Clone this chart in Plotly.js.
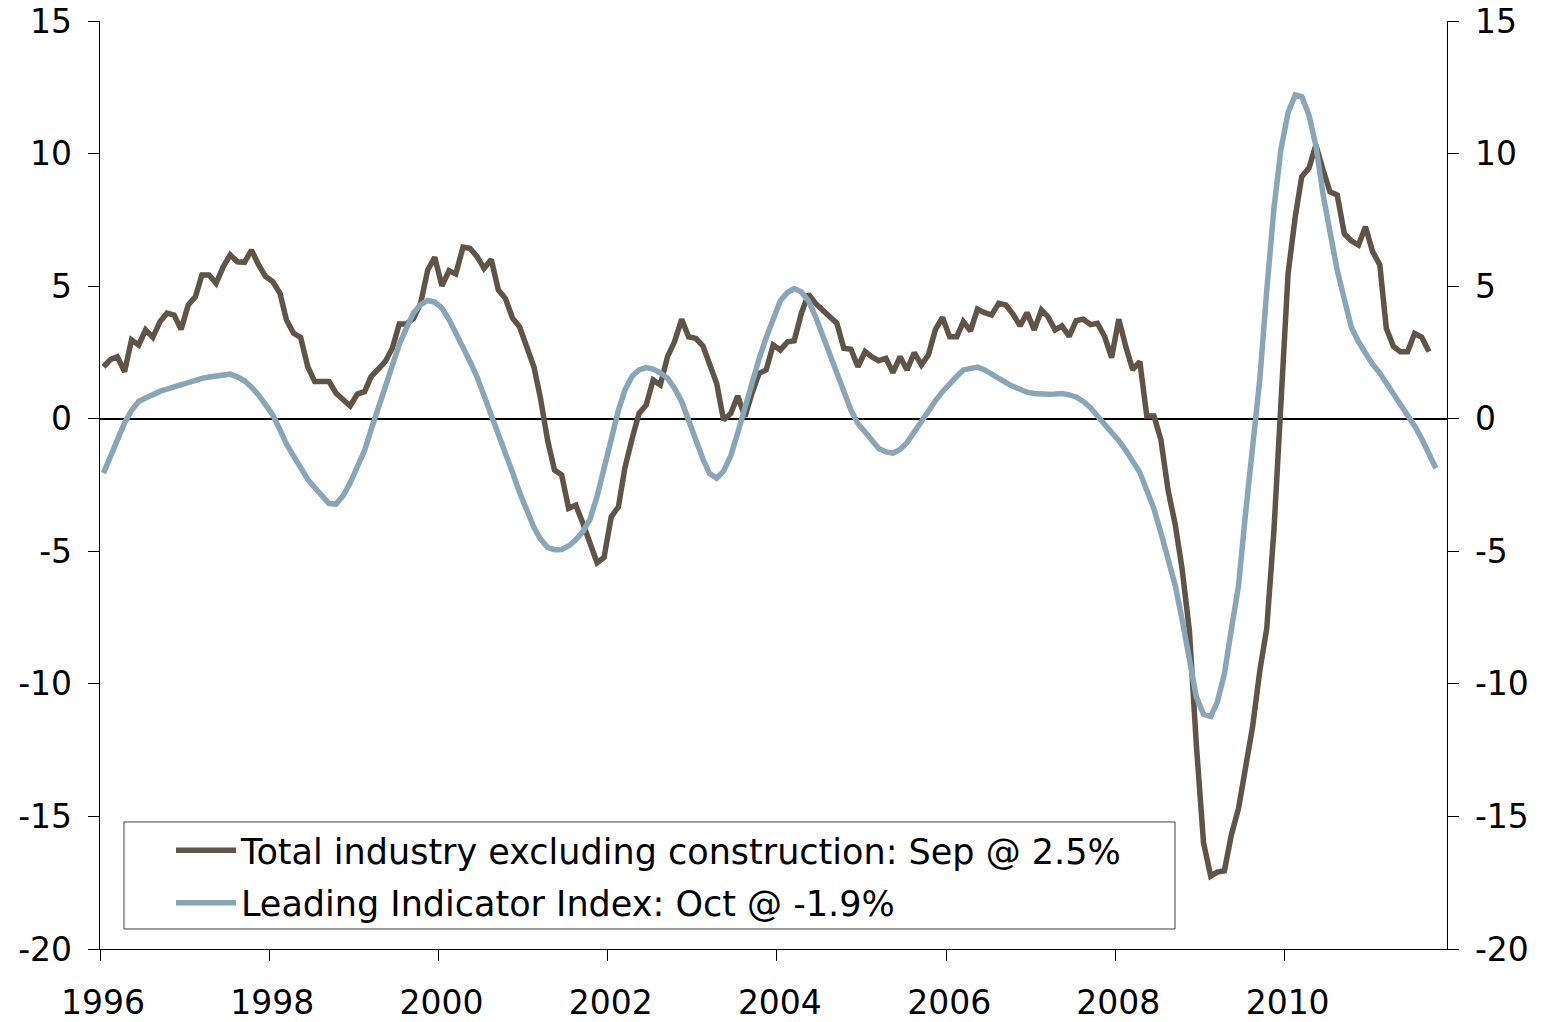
<!DOCTYPE html>
<html>
<head>
<meta charset="utf-8">
<script src="https://cdn.plot.ly/plotly-3.0.1.min.js"></script>
<style>
  html, body { margin: 0; padding: 0; background: #ffffff; }
  #chart { width: 1545px; height: 1022px; }
</style>
</head>
<body>
<div id="chart"></div>
<script>
// Monthly data, first month Jan 1996
const startYear = 1996;

// Total industry excluding construction, y/y % (Jan 1996 - Sep 2011)
const industry = [
  1.96, 2.24, 2.34, 1.77, 2.97, 2.78, 3.35, 3.07, 3.66, 3.98, 3.91, 3.37,
  4.29, 4.60, 5.42, 5.42, 5.11, 5.73, 6.18, 5.92, 5.90, 6.36, 5.80, 5.36,
  5.17, 4.73, 3.72, 3.22, 3.07, 1.96, 1.40, 1.40, 1.40, 0.96, 0.74, 0.48,
  0.93, 1.02, 1.58, 1.84, 2.15, 2.66, 3.57, 3.57, 3.79, 4.35, 5.61, 6.09,
  5.01, 5.58, 5.46, 6.47, 6.43, 6.11, 5.67, 6.01, 4.85, 4.54, 3.79, 3.47,
  2.72, 1.96, 0.80, -0.80, -1.94, -2.12, -3.38, -3.26, -3.95, -4.70, -5.43, -5.23,
  -3.70, -3.32, -1.85, -0.75, 0.20, 0.52, 1.46, 1.27, 2.34, 2.90, 3.75, 3.09,
  3.03, 2.74, 2.09, 1.34, -0.05, 0.20, 0.86, 0.08, 0.96, 1.71, 1.84, 2.78,
  2.59, 2.90, 2.94, 3.98, 4.70, 4.35, 4.10, 3.85, 3.60, 2.66, 2.62, 1.96,
  2.53, 2.32, 2.19, 2.28, 1.74, 2.34, 1.84, 2.49, 2.03, 2.40, 3.37, 3.82,
  3.09, 3.09, 3.66, 3.31, 4.13, 4.00, 3.91, 4.35, 4.29, 3.95, 3.50, 4.00,
  3.35, 4.10, 3.85, 3.35, 3.50, 3.10, 3.70, 3.75, 3.55, 3.60, 3.10, 2.30,
  3.75, 2.70, 1.85, 2.15, 0.10, 0.10, -0.80, -2.70, -4.00, -5.70, -8.00, -12.30,
  -16.00, -17.25, -17.10, -17.05, -15.70, -14.70, -13.30, -11.60, -9.50, -7.90, -4.20, 0.50,
  5.48, 7.62, 9.13, 9.45, 10.32, 9.38, 8.56, 8.44, 6.97, 6.71, 6.55, 7.24,
  6.30, 5.80, 3.41, 2.72, 2.53, 2.53, 3.22, 3.07, 2.53
];

// Leading Indicator Index, y/y % (Jan 1996 - Oct 2011)
const leading = [
  -2.05, -1.41, -0.75, -0.16, 0.31, 0.65, 0.78, 0.92, 1.03, 1.12, 1.21, 1.30,
  1.37, 1.45, 1.52, 1.57, 1.62, 1.66, 1.68, 1.58, 1.43, 1.19, 0.89, 0.52,
  0.14, -0.42, -0.95, -1.41, -1.85, -2.29, -2.60, -2.90, -3.20, -3.22, -2.90, -2.42,
  -1.80, -1.20, -0.43, 0.37, 1.21, 2.00, 2.80, 3.42, 4.00, 4.30, 4.46, 4.40,
  4.17, 3.74, 3.26, 2.74, 2.16, 1.57, 0.89, 0.15, -0.59, -1.31, -2.03, -2.77,
  -3.48, -4.10, -4.53, -4.85, -4.94, -4.93, -4.80, -4.57, -4.26, -3.80, -2.93, -1.88,
  -0.75, 0.32, 1.08, 1.60, 1.84, 1.93, 1.87, 1.73, 1.53, 1.15, 0.65, -0.05,
  -0.84, -1.53, -2.06, -2.24, -1.98, -1.40, -0.54, 0.40, 1.43, 2.25, 3.06, 3.76,
  4.45, 4.76, 4.91, 4.78, 4.45, 3.85, 3.17, 2.45, 1.73, 1.00, 0.32, -0.18,
  -0.53, -0.85, -1.12, -1.25, -1.30, -1.16, -0.90, -0.50, -0.07, 0.34, 0.68, 1.02,
  1.33, 1.60, 1.84, 1.92, 1.95, 1.84, 1.67, 1.50, 1.36, 1.22, 1.10, 1.00,
  0.95, 0.92, 0.92, 0.93, 0.95, 0.90, 0.82, 0.65, 0.42, 0.10, -0.20, -0.53,
  -0.83, -1.20, -1.60, -2.03, -2.70, -3.40, -4.30, -5.30, -6.30, -7.60, -9.20, -10.50,
  -11.15, -11.23, -10.70, -9.63, -7.95, -6.30, -3.60, -1.10, 1.50, 4.85, 7.95, 10.15,
  11.55, 12.21, 12.15, 11.45, 10.30, 8.45, 6.95, 5.60, 4.50, 3.45, 2.90, 2.45,
  2.05, 1.72, 1.35, 0.96, 0.57, 0.18, -0.27, -0.76, -1.30, -1.87
];

const seriesNames = [
  "Total industry excluding construction: Sep @ 2.5%",
  "Leading Indicator Index: Oct @ -1.9%"
];
const yTicks = [-20, -15, -10, -5, 0, 5, 10, 15];
const yTickText = ["-20", "-15", "-10", "-5", "0", "5", "10", "15"];

function monthDates(n) {
  const out = [];
  for (let i = 0; i < n; i++) {
    const y = startYear + Math.floor(i / 12);
    const m = (i % 12) + 1;
    out.push(y + "-" + String(m).padStart(2, "0") + "-16");
  }
  return out;
}

const FONT = "DejaVu Sans, Verdana, sans-serif";
const BROWN = "#5f5447";
const BLUE = "#8aa5b5";

const traces = [
  {
    x: monthDates(industry.length), y: industry, type: "scatter", mode: "lines",
    name: seriesNames[0], line: { color: BROWN, width: 5.5 }, xaxis: "x", yaxis: "y",
    legendgroup: "a"
  },
  {
    x: monthDates(leading.length), y: leading, type: "scatter", mode: "lines",
    name: seriesNames[1], line: { color: BLUE, width: 5.5 }, xaxis: "x", yaxis: "y2",
    legendgroup: "b"
  }
];

const yCommon = {
  range: [-20, 15], tickvals: yTicks, ticktext: yTickText, showgrid: false, fixedrange: true,
  tickfont: { family: FONT, size: 33, color: "#000" }
};

const layout = {
  width: 1545, height: 1022,
  margin: { l: 100, r: 98, t: 21, b: 73 },
  paper_bgcolor: "#ffffff", plot_bgcolor: "#ffffff",
  showlegend: true,
  legend: {
    x: 0.0527, y: 0.1379, xanchor: "left", yanchor: "top",
    bgcolor: "rgba(0,0,0,0)", borderwidth: 0,
    font: { family: FONT, size: 35, color: "#000" },
    itemwidth: 60, tracegroupgap: 4
  },
  xaxis: {
    type: "date", range: ["1996-01-01", "2011-12-03"],
    tick0: "1996-01-01", dtick: "M24", tickformat: "%Y",
    ticks: "outside", ticklen: 11, tickwidth: 1, tickcolor: "#000",
    showline: true, linecolor: "#000", linewidth: 1.3,
    showgrid: false, zeroline: false, fixedrange: true,
    tickfont: { family: FONT, size: 33, color: "#000" },
    ticklabelstandoff: 13, ticklabelshift: 3
  },
  yaxis: Object.assign({}, yCommon, {
    side: "left", ticks: "outside", ticklen: 11, tickwidth: 1, tickcolor: "#000",
    showline: true, linecolor: "#000", linewidth: 1.3,
    zeroline: true, zerolinecolor: "#000", zerolinewidth: 1.6,
    ticklabelstandoff: 9
  }),
  yaxis2: Object.assign({}, yCommon, {
    overlaying: "y", side: "right", anchor: "x",
    ticks: "outside", ticklen: 11, tickwidth: 1, tickcolor: "#000",
    showline: true, linecolor: "#000", linewidth: 1.3, zeroline: false,
    ticklabelstandoff: 9
  }),
  yaxis3: Object.assign({}, yCommon, {
    overlaying: "y", side: "left", anchor: "x",
    ticks: "inside", ticklen: 11, tickwidth: 1, tickcolor: "#000",
    showticklabels: false, showline: false, zeroline: false
  }),
  yaxis4: Object.assign({}, yCommon, {
    overlaying: "y", side: "right", anchor: "x",
    ticks: "inside", ticklen: 11, tickwidth: 1, tickcolor: "#000",
    showticklabels: false, showline: false, zeroline: false
  }),
  shapes: [
    {
      type: "rect", xref: "paper", yref: "paper", layer: "below",
      x0: 0.0178, x1: 0.7981, y0: 0.0216, y1: 0.1369,
      line: { color: "#404040", width: 1 }, fillcolor: "#ffffff"
    }
  ]
};

Plotly.newPlot("chart", traces, layout, { displayModeBar: false, staticPlot: true });
</script>
</body>
</html>
